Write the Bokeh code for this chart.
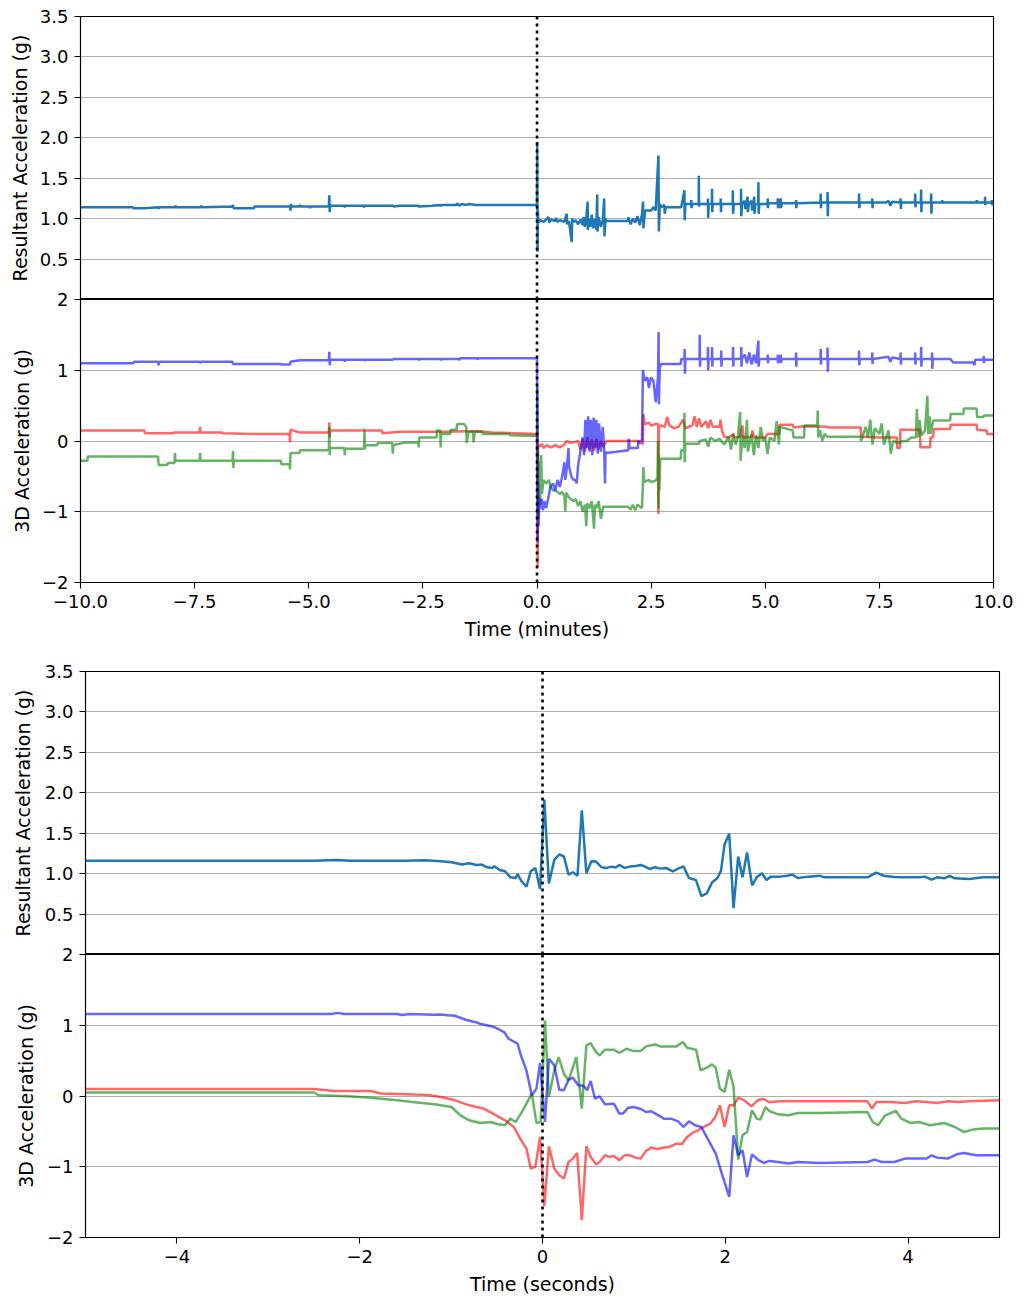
from bokeh.plotting import figure
from bokeh.layouts import column
from bokeh.models import Range1d, FixedTicker, CustomJSTickFormatter, Span
from bokeh.embed import file_html
from bokeh.resources import INLINE

# ---------------- data: (time, value) pairs ----------------
# Top group: time in minutes
min_resultant = [
    (-10.0, 1.14), (-8.85, 1.14), (-8.84, 1.13), (-8.6, 1.13), (-8.3, 1.14), (-8.29, 1.12), (-8.28, 1.14),
    (-7.93, 1.14), (-7.92, 1.16), (-7.91, 1.14), (-7.36, 1.14), (-7.35, 1.16), (-7.34, 1.14),
    (-6.67, 1.15), (-6.66, 1.17), (-6.65, 1.13), (-6.2, 1.13), (-6.19, 1.15), (-5.41, 1.15), (-5.40, 1.10),
    (-5.39, 1.18), (-5.38, 1.15), (-5.2, 1.15), (-5.19, 1.17), (-5.18, 1.15), (-4.98, 1.15), (-4.97, 1.13),
    (-4.96, 1.15), (-4.56, 1.15), (-4.55, 1.29), (-4.54, 1.08), (-4.53, 1.16), (-4.22, 1.16), (-4.21, 1.14),
    (-4.20, 1.16), (-3.8, 1.16), (-3.79, 1.14), (-3.78, 1.16), (-3.15, 1.16), (-3.14, 1.15), (-3.0, 1.16),
    (-2.6, 1.16), (-2.59, 1.15), (-2.3, 1.16), (-2.12, 1.17), (-2.11, 1.15), (-2.1, 1.17), (-1.76, 1.17),
    (-1.75, 1.19), (-1.7, 1.16), (-1.65, 1.18), (-1.55, 1.17), (-1.5, 1.18), (-1.33, 1.17), (-1.32, 1.16),
    (-1.31, 1.17), (-0.02, 1.17),
    (0.0, 1.17), (0.005, 1.95), (0.012, 0.59), (0.02, 1.1), (0.03, 0.95), (0.07, 0.98), (0.15, 0.96),
    (0.25, 1.02), (0.27, 0.95), (0.3, 0.99), (0.4, 0.97), (0.42, 1.01), (0.45, 0.96), (0.5, 0.98),
    (0.6, 0.96), (0.65, 1.06), (0.66, 0.93), (0.7, 0.97), (0.76, 0.71), (0.77, 1.0), (0.8, 0.96),
    (0.85, 0.98), (0.9, 0.93), (0.95, 0.99), (1.0, 0.92), (1.02, 1.02), (1.05, 0.9), (1.08, 1.0),
    (1.109, 1.21), (1.115, 0.86), (1.14, 1.0), (1.17, 0.9), (1.2, 1.05), (1.23, 0.88), (1.27, 1.0),
    (1.3, 0.86), (1.319, 1.30), (1.325, 0.84), (1.35, 1.02), (1.4, 0.9), (1.44, 0.98), (1.472, 1.25),
    (1.478, 0.78), (1.5, 1.0), (1.523, 0.97), (1.99, 0.97), (2.0, 1.02), (2.05, 0.93), (2.1, 1.0),
    (2.15, 0.95), (2.2, 1.03), (2.25, 0.92), (2.3, 1.05), (2.323, 1.21), (2.33, 0.88), (2.37, 1.1),
    (2.5, 1.1), (2.55, 1.14), (2.6, 1.1), (2.66, 1.78), (2.67, 0.84), (2.69, 1.18), (2.72, 1.14),
    (2.79, 1.17), (2.80, 1.06), (2.82, 1.14), (3.159, 1.14), (3.23, 1.35), (3.235, 0.98), (3.25, 1.18),
    (3.376, 1.18), (3.38, 1.23), (3.385, 1.13), (3.4, 1.18), (3.543, 1.18), (3.545, 1.53), (3.55, 1.15),
    (3.56, 1.18), (3.74, 1.18), (3.745, 1.25), (3.75, 1.01), (3.76, 1.18), (3.83, 1.18), (3.835, 1.37),
    (3.84, 1.08), (3.85, 1.18), (4.02, 1.18), (4.025, 1.25), (4.03, 1.08), (4.04, 1.18), (4.286, 1.18),
    (4.29, 1.35), (4.295, 1.06), (4.31, 1.18), (4.468, 1.18), (4.47, 1.37), (4.475, 1.03), (4.49, 1.18),
    (4.55, 1.22), (4.56, 1.12), (4.613, 1.27), (4.618, 1.08), (4.64, 1.18), (4.7, 1.22), (4.71, 1.1),
    (4.759, 1.27), (4.764, 1.06), (4.78, 1.18), (4.846, 1.18), (4.85, 1.45), (4.855, 1.06), (4.87, 1.18),
    (5.05, 1.18), (5.055, 1.25), (5.06, 1.13), (5.07, 1.19), (5.27, 1.19), (5.275, 1.25), (5.28, 1.13),
    (5.34, 1.25), (5.345, 1.13), (5.36, 1.19), (5.67, 1.19), (5.675, 1.23), (5.68, 1.13), (5.69, 1.19),
    (6.21, 1.2), (6.215, 1.31), (6.22, 1.13), (6.23, 1.2), (6.36, 1.2), (6.365, 1.33), (6.37, 1.03),
    (6.38, 1.2), (7.05, 1.2), (7.055, 1.31), (7.06, 1.13), (7.07, 1.2), (7.34, 1.2), (7.345, 1.25),
    (7.35, 1.13), (7.36, 1.2), (7.65, 1.2), (7.7, 1.22), (7.74, 1.16), (7.78, 1.21), (7.96, 1.2),
    (7.965, 1.25), (7.97, 1.12), (7.98, 1.2), (8.28, 1.2), (8.285, 1.31), (8.29, 1.14), (8.3, 1.2),
    (8.41, 1.2), (8.415, 1.36), (8.42, 1.08), (8.43, 1.2), (8.63, 1.2), (8.635, 1.31), (8.64, 1.06),
    (8.65, 1.2), (8.87, 1.2), (8.875, 1.23), (8.88, 1.2), (9.63, 1.2), (9.635, 1.23), (9.64, 1.2),
    (9.81, 1.2), (9.815, 1.27), (9.82, 1.17), (9.83, 1.2), (9.96, 1.2), (9.965, 1.23), (9.97, 1.17),
    (10.0, 1.19),
]

min_acc_x = [  # red
    (-10.0, 0.15), (-8.6, 0.15), (-8.59, 0.11), (-7.97, 0.11), (-7.96, 0.12), (-7.39, 0.12), (-7.38, 0.20),
    (-7.37, 0.12), (-6.9, 0.12), (-6.89, 0.11), (-6.2, 0.10), (-5.42, 0.10), (-5.41, -0.02), (-5.40, 0.16),
    (-5.2, 0.12), (-4.56, 0.12), (-4.55, 0.26), (-4.54, 0.05), (-4.53, 0.15), (-3.8, 0.15), (-3.79, 0.17),
    (-3.78, 0.15), (-3.4, 0.15), (-3.39, 0.11), (-3.0, 0.13), (-2.0, 0.13), (-1.3, 0.14), (-1.0, 0.12),
    (-0.5, 0.11), (-0.02, 0.10),
    (0.0, 0.10), (0.008, -1.2), (0.015, -1.78), (0.022, -0.05), (0.05, -0.08), (0.1, -0.04), (0.15, -0.1),
    (0.2, -0.06), (0.3, -0.09), (0.4, -0.06), (0.5, -0.09), (0.6, -0.05), (0.65, 0.0), (0.7, -0.02),
    (0.8, -0.02), (0.9, 0.0), (0.95, -0.12), (1.0, 0.03), (1.05, -0.15), (1.1, 0.05), (1.15, -0.12),
    (1.2, 0.02), (1.25, -0.14), (1.3, 0.03), (1.35, -0.12), (1.4, 0.0), (1.45, -0.08), (1.52, 0.0),
    (2.21, 0.0), (2.22, -0.02), (2.32, -0.04), (2.33, 0.38), (2.36, 0.24), (2.45, 0.26), (2.5, 0.22),
    (2.6, 0.24), (2.655, 0.24), (2.66, -1.03), (2.67, 0.2), (2.72, 0.22), (2.8, 0.2), (2.85, 0.34),
    (2.9, 0.22), (3.0, 0.18), (3.1, 0.2), (3.2, 0.3), (3.25, 0.18), (3.4, 0.22), (3.45, 0.35), (3.5, 0.2),
    (3.55, 0.32), (3.6, 0.2), (3.7, 0.28), (3.75, 0.18), (3.8, 0.3), (3.85, 0.2), (4.0, 0.2), (4.02, 0.3),
    (4.05, 0.15), (4.1, 0.06), (4.2, 0.05), (4.3, 0.1), (4.32, 0.05), (4.45, 0.06), (4.5, 0.22),
    (4.52, 0.05), (4.7, 0.06), (4.72, 0.15), (4.75, 0.05), (5.0, 0.05), (5.05, 0.1), (5.3, 0.10),
    (5.31, 0.23), (5.6, 0.23), (5.62, 0.19), (5.85, 0.21), (6.36, 0.2), (6.37, 0.19), (7.09, 0.19),
    (7.10, 0.06), (7.5, 0.05), (7.88, 0.05), (7.89, -0.1), (7.95, -0.1), (7.96, 0.16), (8.39, 0.16),
    (8.40, -0.09), (8.61, -0.09), (8.62, 0.05), (8.68, 0.05), (8.69, 0.17), (9.05, 0.17), (9.06, 0.23),
    (9.63, 0.23), (9.64, 0.16), (9.85, 0.15), (9.86, 0.1), (10.0, 0.1),
]

min_acc_y = [  # green
    (-10.0, -0.28), (-9.85, -0.28), (-9.84, -0.22), (-8.30, -0.22), (-8.29, -0.34), (-8.1, -0.34),
    (-8.09, -0.31), (-7.94, -0.31), (-7.93, -0.17), (-7.92, -0.28), (-7.39, -0.28), (-7.38, -0.17),
    (-7.37, -0.28), (-6.67, -0.28), (-6.66, -0.14), (-6.65, -0.38), (-6.64, -0.28), (-5.61, -0.28),
    (-5.60, -0.33), (-5.42, -0.33), (-5.41, -0.40), (-5.40, -0.17), (-5.2, -0.17), (-5.19, -0.13),
    (-4.56, -0.13), (-4.55, 0.20), (-4.54, -0.20), (-4.53, -0.10), (-4.22, -0.10), (-4.21, -0.20),
    (-4.20, -0.11), (-3.79, -0.11), (-3.78, 0.15), (-3.77, -0.12), (-3.76, -0.06), (-3.5, -0.06),
    (-3.49, -0.03), (-3.17, -0.03), (-3.16, -0.18), (-3.15, -0.06), (-2.9, -0.02), (-2.6, -0.02),
    (-2.59, -0.09), (-2.58, 0.05), (-2.2, 0.05), (-2.19, 0.15), (-2.12, 0.15), (-2.11, -0.09),
    (-2.10, 0.10), (-1.9, 0.10), (-1.89, 0.16), (-1.76, 0.16), (-1.75, 0.24), (-1.6, 0.24), (-1.55, 0.2),
    (-1.54, -0.03), (-1.50, 0.13), (-1.40, 0.13), (-1.39, -0.02), (-1.36, 0.13), (-1.2, 0.13),
    (-1.19, 0.10), (-0.6, 0.10), (-0.59, 0.08), (-0.02, 0.07),
    (0.0, 0.07), (0.008, 0.76), (0.014, -0.6), (0.02, -0.15), (0.03, -1.1), (0.05, -0.3), (0.07, -0.9),
    (0.09, -0.2), (0.11, -0.75), (0.14, -0.55), (0.2, -0.6), (0.26, -0.55), (0.3, -0.65), (0.35, -0.7),
    (0.4, -0.7), (0.45, -0.72), (0.5, -0.75), (0.55, -0.72), (0.6, -0.78), (0.62, -1.0), (0.64, -0.73),
    (0.7, -0.8), (0.8, -0.85), (0.85, -0.82), (0.9, -0.92), (0.95, -0.85), (1.0, -1.0), (1.05, -0.9),
    (1.08, -1.2), (1.1, -0.88), (1.15, -0.95), (1.2, -0.85), (1.25, -1.24), (1.27, -0.9), (1.3, -0.95),
    (1.35, -0.85), (1.4, -1.1), (1.45, -0.93), (1.52, -0.93), (2.0, -0.93), (2.05, -0.97), (2.1, -0.9),
    (2.15, -0.98), (2.2, -0.9), (2.3, -0.95), (2.32, -0.6), (2.33, -0.37), (2.35, -0.58), (2.45, -0.55),
    (2.5, -0.58), (2.6, -0.56), (2.64, -0.52), (2.65, 0.0), (2.66, -0.95), (2.67, -0.2), (2.68, -0.7),
    (2.70, -0.25), (2.72, -0.25), (3.15, -0.25), (3.16, -0.13), (3.22, -0.13), (3.23, 0.4), (3.235, -0.3),
    (3.25, -0.04), (3.55, -0.04), (3.56, 0.0), (3.7, 0.02), (3.75, -0.08), (3.8, 0.05), (3.9, 0.0),
    (4.0, 0.03), (4.1, -0.05), (4.2, 0.06), (4.25, -0.12), (4.3, 0.1), (4.35, -0.05), (4.4, 0.05),
    (4.45, 0.41), (4.46, -0.28), (4.5, 0.08), (4.55, -0.1), (4.6, 0.3), (4.62, -0.15), (4.7, 0.1),
    (4.75, -0.2), (4.8, 0.08), (4.85, -0.1), (4.9, 0.2), (4.95, 0.0), (5.0, 0.05), (5.05, -0.18),
    (5.1, 0.05), (5.2, 0.0), (5.25, 0.28), (5.3, -0.05), (5.32, 0.2), (5.6, 0.15), (5.62, 0.05),
    (5.85, 0.05), (5.86, 0.22), (6.14, 0.22), (6.15, 0.43), (6.16, 0.05), (6.2, 0.15), (6.25, 0.0),
    (6.3, 0.1), (6.36, 0.06), (7.09, 0.06), (7.1, 0.0), (7.2, 0.2), (7.25, 0.05), (7.3, 0.3),
    (7.35, -0.05), (7.4, 0.18), (7.5, 0.1), (7.55, 0.25), (7.6, -0.05), (7.7, 0.15), (7.75, -0.18),
    (7.8, 0.0), (7.88, -0.02), (7.95, -0.02), (8.0, 0.0), (8.1, 0.0), (8.2, 0.05), (8.3, 0.05),
    (8.32, 0.45), (8.35, 0.05), (8.38, 0.3), (8.42, 0.08), (8.5, 0.15), (8.55, 0.64), (8.57, 0.1),
    (8.6, 0.35), (8.62, 0.1), (8.68, 0.29), (9.05, 0.29), (9.06, 0.38), (9.34, 0.38), (9.35, 0.46),
    (9.63, 0.46), (9.64, 0.34), (9.78, 0.34), (9.79, 0.36), (10.0, 0.36),
]

min_acc_z = [  # blue
    (-10.0, 1.10), (-8.84, 1.10), (-8.83, 1.12), (-8.3, 1.12), (-8.29, 1.07), (-8.27, 1.12), (-7.97, 1.12),
    (-7.38, 1.12), (-7.37, 1.10), (-7.36, 1.12), (-6.67, 1.12), (-6.66, 1.09), (-5.62, 1.09), (-5.60, 1.08),
    (-5.41, 1.08), (-5.40, 1.12), (-5.2, 1.14), (-4.56, 1.14), (-4.55, 1.26), (-4.54, 1.07), (-4.53, 1.15),
    (-4.22, 1.15), (-4.21, 1.12), (-4.2, 1.15), (-3.78, 1.15), (-3.77, 1.13), (-3.76, 1.15), (-3.17, 1.15),
    (-3.16, 1.14), (-3.15, 1.16), (-2.59, 1.16), (-2.58, 1.14), (-2.57, 1.16), (-2.11, 1.16), (-2.10, 1.14),
    (-2.09, 1.16), (-1.71, 1.16), (-1.70, 1.14), (-1.69, 1.17), (-1.31, 1.17), (-1.30, 1.15), (-1.29, 1.17),
    (-0.02, 1.17),
    (0.0, 1.17), (0.008, 0.2), (0.016, -1.43), (0.025, -0.6), (0.035, -1.2), (0.05, -0.8), (0.07, -0.95),
    (0.1, -0.82), (0.13, -0.98), (0.16, -0.85), (0.2, -0.95), (0.25, -0.8), (0.29, -0.65), (0.35, -0.6),
    (0.4, -0.7), (0.45, -0.55), (0.5, -0.65), (0.55, -0.5), (0.6, -0.3), (0.62, -0.55), (0.65, -0.4),
    (0.69, -0.1), (0.7, -0.35), (0.75, -0.5), (0.8, -0.55), (0.85, -0.55), (0.87, -0.6), (0.9, -0.35),
    (0.95, -0.15), (1.0, 0.05), (1.03, -0.2), (1.06, 0.3), (1.09, -0.1), (1.12, 0.35), (1.15, -0.15),
    (1.18, 0.3), (1.21, -0.2), (1.24, 0.33), (1.27, -0.1), (1.3, 0.3), (1.33, -0.18), (1.36, 0.25),
    (1.4, -0.15), (1.44, 0.2), (1.47, -0.1), (1.49, -0.6), (1.5, -0.15), (1.52, -0.17), (2.0, -0.13),
    (2.01, 0.03), (2.03, -0.1), (2.21, -0.1), (2.22, 0.0), (2.30, 0.0), (2.32, 1.0), (2.36, 0.85),
    (2.42, 0.9), (2.45, 0.75), (2.5, 0.9), (2.55, 0.85), (2.6, 0.55), (2.65, 0.9), (2.664, 1.54),
    (2.67, 0.52), (2.69, 1.05), (2.72, 1.09), (3.15, 1.09), (3.16, 1.16), (3.23, 1.16), (3.235, 1.3),
    (3.24, 0.95), (3.25, 1.16), (3.56, 1.16), (3.565, 1.5), (3.57, 1.05), (3.58, 1.16), (3.74, 1.16),
    (3.745, 1.33), (3.75, 1.0), (3.76, 1.16), (3.83, 1.16), (3.835, 1.33), (3.84, 1.05), (3.85, 1.16),
    (4.03, 1.16), (4.035, 1.28), (4.04, 1.05), (4.05, 1.16), (4.29, 1.16), (4.295, 1.33), (4.30, 1.05),
    (4.31, 1.16), (4.47, 1.16), (4.475, 1.33), (4.48, 1.05), (4.49, 1.16), (4.55, 1.22), (4.6, 1.1),
    (4.65, 1.25), (4.7, 1.08), (4.75, 1.22), (4.80, 1.1), (4.85, 1.42), (4.855, 1.05), (4.87, 1.16),
    (5.05, 1.16), (5.055, 1.22), (5.06, 1.1), (5.07, 1.16), (5.27, 1.16), (5.275, 1.22), (5.28, 1.1),
    (5.34, 1.22), (5.345, 1.1), (5.36, 1.16), (5.67, 1.16), (5.675, 1.25), (5.68, 1.05), (5.69, 1.16),
    (6.21, 1.16), (6.215, 1.3), (6.22, 1.08), (6.23, 1.16), (6.36, 1.16), (6.365, 1.32), (6.37, 0.98),
    (6.38, 1.16), (7.05, 1.16), (7.055, 1.28), (7.06, 1.07), (7.07, 1.16), (7.34, 1.16), (7.345, 1.25),
    (7.35, 1.09), (7.36, 1.16), (7.7, 1.19), (7.74, 1.12), (7.78, 1.18), (7.96, 1.16), (7.965, 1.25),
    (7.97, 1.08), (7.98, 1.16), (8.28, 1.16), (8.285, 1.25), (8.29, 1.08), (8.3, 1.16), (8.41, 1.16),
    (8.415, 1.33), (8.42, 1.05), (8.43, 1.16), (8.65, 1.16), (8.655, 1.25), (8.66, 1.02), (8.67, 1.16),
    (9.05, 1.16), (9.12, 1.11), (9.56, 1.11), (9.58, 1.07), (9.60, 1.15), (9.78, 1.15), (9.785, 1.2),
    (9.79, 1.1), (9.8, 1.15), (10.0, 1.15),
]

# Bottom group: time in seconds
sec_resultant = [
    (-5.0, 1.16), (-2.5, 1.16), (-2.25, 1.17), (-2.1, 1.16), (-1.5, 1.16), (-1.3, 1.165), (-1.2, 1.16),
    (-1.113, 1.154), (-0.996, 1.141), (-0.879, 1.112), (-0.801, 1.129), (-0.723, 1.108), (-0.664, 1.112),
    (-0.605, 1.079), (-0.547, 1.071), (-0.527, 1.091), (-0.469, 1.046), (-0.410, 1.029), (-0.352, 0.954),
    (-0.293, 0.946), (-0.273, 0.996), (-0.234, 0.913), (-0.176, 0.838), (-0.129, 1.029), (-0.078, 1.071),
    (-0.027, 0.809), (0.020, 1.917), (0.070, 0.880), (0.129, 1.170), (0.184, 1.237), (0.234, 1.212),
    (0.285, 0.988), (0.332, 1.017), (0.383, 0.975), (0.430, 1.784), (0.480, 1.004), (0.535, 1.154),
    (0.586, 1.149), (0.645, 1.079), (0.703, 1.071), (0.754, 1.087), (0.801, 1.075), (0.840, 1.108),
    (0.898, 1.071), (0.957, 1.087), (1.016, 1.095), (1.074, 1.108), (1.121, 1.087), (1.172, 1.058),
    (1.230, 1.079), (1.289, 1.062), (1.348, 1.071), (1.426, 1.029), (1.484, 1.062), (1.543, 1.091),
    (1.602, 0.946), (1.680, 0.921), (1.738, 0.722), (1.797, 0.755), (1.855, 0.892), (1.914, 0.946),
    (1.953, 1.037), (1.992, 1.361), (2.043, 1.494), (2.090, 0.573), (2.141, 1.212), (2.188, 0.954),
    (2.238, 1.261), (2.293, 0.855), (2.344, 0.954), (2.402, 1.004), (2.449, 0.921), (2.500, 0.963),
    (2.598, 0.963), (2.676, 0.975), (2.734, 0.988), (2.793, 0.946), (2.910, 0.963), (3.027, 0.975),
    (3.086, 0.954), (3.184, 0.954), (3.555, 0.954), (3.652, 1.012), (3.730, 0.975), (3.848, 0.958),
    (3.965, 0.954), (4.121, 0.954), (4.180, 0.963), (4.258, 0.925), (4.316, 0.954), (4.395, 0.942),
    (4.453, 0.971), (4.512, 0.942), (4.668, 0.934), (4.824, 0.954), (5.0, 0.954),
]

sec_acc_x = [  # red
    (-5.0, 0.10), (-2.5, 0.10), (-2.28, 0.07), (-1.88, 0.07), (-1.77, 0.035), (-1.40, 0.02), (-1.26, 0.015),
    (-1.113, -0.014), (-0.957, -0.061), (-0.801, -0.132), (-0.645, -0.179), (-0.527, -0.259),
    (-0.41, -0.344), (-0.313, -0.438), (-0.234, -0.626), (-0.176, -0.744), (-0.129, -1.026),
    (-0.078, -1.002), (-0.027, -0.579), (0.02, -1.558), (0.07, -0.711), (0.129, -1.026), (0.184, -1.12),
    (0.234, -1.167), (0.285, -0.932), (0.332, -0.885), (0.379, -0.805), (0.43, -1.755), (0.48, -0.711),
    (0.527, -0.861), (0.586, -0.965), (0.625, -0.932), (0.684, -0.838), (0.73, -0.861), (0.781, -0.847),
    (0.84, -0.908), (0.898, -0.838), (0.957, -0.838), (1.016, -0.871), (1.074, -0.885), (1.133, -0.776),
    (1.191, -0.729), (1.25, -0.748), (1.328, -0.729), (1.387, -0.72), (1.465, -0.673), (1.523, -0.682),
    (1.582, -0.579), (1.641, -0.522), (1.699, -0.485), (1.777, -0.428), (1.836, -0.391), (1.895, -0.287),
    (1.941, -0.132), (1.992, -0.438), (2.043, -0.132), (2.09, -0.132), (2.141, -0.024), (2.207, -0.061),
    (2.285, -0.146), (2.363, -0.052), (2.422, -0.042), (2.48, -0.089), (2.598, -0.075), (2.793, -0.075),
    (3.555, -0.075), (3.605, -0.179), (3.652, -0.085), (3.809, -0.085), (3.965, -0.099), (4.082, -0.075),
    (4.199, -0.085), (4.316, -0.099), (4.434, -0.075), (4.551, -0.085), (4.668, -0.075), (5.0, -0.061),
]

sec_acc_y = [  # green
    (-5.0, 0.05), (-2.5, 0.05), (-2.45, 0.01), (-2.13, -0.005), (-1.88, -0.024), (-1.585, -0.06),
    (-1.40, -0.09), (-1.18, -0.118),
    (-1.113, -0.132), (-0.996, -0.155), (-0.898, -0.273), (-0.801, -0.344), (-0.684, -0.381),
    (-0.566, -0.367), (-0.488, -0.4), (-0.41, -0.414), (-0.352, -0.32), (-0.293, -0.367), (-0.215, -0.202),
    (-0.117, 0.033), (-0.066, -0.381), (-0.02, -0.367), (0.027, 1.068), (0.07, -0.014), (0.129, 0.362),
    (0.176, 0.551), (0.234, 0.315), (0.285, 0.221), (0.371, 0.551), (0.43, -0.179), (0.48, 0.715),
    (0.527, 0.748), (0.586, 0.621), (0.625, 0.574), (0.684, 0.654), (0.781, 0.654), (0.84, 0.607),
    (0.918, 0.668), (0.996, 0.635), (1.074, 0.635), (1.133, 0.701), (1.23, 0.729), (1.289, 0.701),
    (1.465, 0.701), (1.535, 0.762), (1.582, 0.682), (1.68, 0.654), (1.73, 0.362), (1.797, 0.4),
    (1.855, 0.447), (1.895, 0.4), (1.941, 0.104), (1.992, 0.056), (2.043, 0.372), (2.09, 0.127),
    (2.141, -0.899), (2.188, -0.555), (2.238, -0.508), (2.293, -0.202), (2.344, -0.32), (2.383, -0.334),
    (2.441, -0.155), (2.48, -0.212), (2.578, -0.259), (2.695, -0.273), (2.793, -0.24), (3.027, -0.24),
    (3.555, -0.226), (3.613, -0.367), (3.672, -0.414), (3.75, -0.273), (3.867, -0.212), (3.926, -0.32),
    (4.023, -0.381), (4.121, -0.367), (4.238, -0.414), (4.395, -0.381), (4.512, -0.438), (4.609, -0.508),
    (4.707, -0.475), (4.824, -0.461), (5.0, -0.461),
]

sec_acc_z = [  # blue
    (-5.0, 1.16), (-2.31, 1.16), (-2.24, 1.175), (-2.17, 1.16), (-1.6, 1.16), (-1.53, 1.145), (-1.46, 1.16),
    (-1.18, 1.15), (-1.113, 1.153), (-1.04, 1.14), (-0.957, 1.134), (-0.84, 1.078), (-0.71, 1.035),
    (-0.684, 1.021), (-0.527, 0.974), (-0.42, 0.904), (-0.371, 0.809), (-0.273, 0.739), (-0.236, 0.574),
    (-0.176, 0.362), (-0.117, 0.009), (-0.066, 0.104), (-0.027, 0.466), (0.027, -0.367), (0.07, 0.527),
    (0.129, 0.433), (0.184, 0.089), (0.234, 0.08), (0.285, 0.231), (0.332, 0.259), (0.391, 0.151),
    (0.449, 0.146), (0.488, 0.08), (0.527, 0.212), (0.574, -0.038), (0.625, -0.005), (0.684, -0.118),
    (0.781, -0.108), (0.840, -0.249), (0.879, -0.249), (0.938, -0.165), (0.996, -0.155), (1.074, -0.184),
    (1.133, -0.226), (1.191, -0.216), (1.25, -0.259), (1.328, -0.32), (1.406, -0.32), (1.484, -0.358),
    (1.543, -0.438), (1.602, -0.358), (1.668, -0.414), (1.738, -0.438), (1.816, -0.626), (1.895, -0.814),
    (1.973, -1.144), (2.043, -1.426), (2.09, -0.555), (2.141, -0.838), (2.188, -0.767), (2.238, -1.144),
    (2.293, -0.824), (2.363, -0.908), (2.422, -0.946), (2.48, -0.918), (2.578, -0.932), (2.695, -0.955),
    (2.793, -0.932), (3.027, -0.946), (3.555, -0.932), (3.633, -0.899), (3.711, -0.932), (3.848, -0.932),
    (3.965, -0.885), (4.199, -0.885), (4.258, -0.838), (4.316, -0.871), (4.434, -0.885), (4.531, -0.824),
    (4.609, -0.805), (4.746, -0.838), (5.0, -0.838),
]

res_ticks = [0.5, 1.0, 1.5, 2.0, 2.5, 3.0, 3.5]
acc_ticks = [-2, -1, 0, 1, 2]
min_ticks = [-10.0, -7.5, -5.0, -2.5, 0.0, 2.5, 5.0, 7.5, 10.0]
sec_ticks = [-4, -2, 0, 2, 4]

# ---------------- styling ----------------
FONT = "DejaVu Sans"
TICK_FS = "18px"
LABEL_FS = "19px"
RES_COLOR = "#1f77b4"
LW = 2.5
OVERLAP = 12  # transparent top border of a lower panel, so its top tick label is not clipped


def fmt(decimals):
    return CustomJSTickFormatter(code="return tick.toFixed(%d).replace('-', '\\u2212');" % decimals)


def make_fig(xr, yr, fw, fh, left, right, top, bottom):
    p = figure(frame_width=fw, frame_height=fh, x_range=Range1d(*xr), y_range=Range1d(*yr),
               output_backend="svg", toolbar_location=None,
               min_border_left=left, min_border_right=right, min_border_top=top, min_border_bottom=bottom)
    p.background_fill_color = "white"
    p.border_fill_color = "white"
    p.outline_line_color = "black"
    p.outline_line_width = 1.1
    p.outline_line_alpha = 1.0
    p.xgrid.visible = False
    p.ygrid.grid_line_color = "#b0b0b0"
    p.ygrid.grid_line_width = 1.1
    for ax in p.axis:
        ax.axis_line_color = "black"
        ax.axis_line_width = 1.1
        ax.major_tick_line_color = "black"
        ax.major_tick_line_width = 1.1
        ax.major_tick_out = 6
        ax.major_tick_in = 0
        ax.minor_tick_line_color = None
        ax.major_label_text_font = FONT
        ax.major_label_text_font_size = TICK_FS
        ax.major_label_text_color = "black"
        ax.axis_label_text_font = FONT
        ax.axis_label_text_font_size = LABEL_FS
        ax.axis_label_text_font_style = "normal"
        ax.axis_label_text_color = "black"
        ax.major_label_standoff = 6
    p.add_layout(Span(location=0, dimension="height", line_color="black",
                      line_width=2.6, line_dash="3 4"))
    return p


def unzip(pairs):
    return [a for a, _ in pairs], [b for _, b in pairs]


def res_panel(xr, fw, left, top, data, label_standoff, shift):
    p = make_fig(xr, (0, 3.5), fw, 283, left, 24, top, 0)
    if shift:
        p.styles = {"margin-left": "-%dpx" % shift}
    p.xaxis.visible = False
    p.yaxis.ticker = FixedTicker(ticks=res_ticks)
    p.yaxis.formatter = fmt(1)
    p.yaxis.axis_label = "Resultant Acceleration (g)"
    p.yaxis.axis_label_standoff = label_standoff
    t, v = unzip(data)
    p.line(t, v, line_color=RES_COLOR, line_width=LW)
    return p


def acc_panel(xr, fw, left, bottom, xs, ys, zs, xticks, xdec, xlabel, label_standoff, shift):
    p = make_fig(xr, (-2, 2), fw, 283, left, 24, OVERLAP, bottom)
    p.border_fill_alpha = 0.0
    p.styles = {"margin-top": "-%dpx" % OVERLAP, "margin-left": "-%dpx" % shift}
    p.yaxis.ticker = FixedTicker(ticks=acc_ticks)
    p.yaxis.formatter = fmt(0)
    p.yaxis.axis_label = "3D Acceleration (g)"
    p.yaxis.axis_label_standoff = label_standoff
    p.xaxis.ticker = FixedTicker(ticks=xticks)
    p.xaxis.formatter = fmt(xdec)
    p.xaxis.axis_label = xlabel
    p.xaxis.axis_label_standoff = 7
    for series, col in ((xs, "red"), (ys, "green"), (zs, "blue")):
        t, v = unzip(series)
        p.line(t, v, line_color=col, line_alpha=0.6, line_width=LW)
    return p


p1 = res_panel((-10, 10), 917, 85, 16, min_resultant, 6, 5)
p2 = acc_panel((-10, 10), 917, 85, 60, min_acc_x, min_acc_y, min_acc_z, min_ticks, 1, "Time (minutes)", 6, 5)
p3 = res_panel((-5, 5), 914, 84, 29, sec_resultant, 8, 0)
p4 = acc_panel((-5, 5), 914, 84, 56, sec_acc_x, sec_acc_y, sec_acc_z, sec_ticks, 0, "Time (seconds)", 7, 0)

layout = column(p1, p2, p3, p4, spacing=0)
with open("out.html", "w", encoding="utf-8") as f:
    f.write(file_html(layout, INLINE))
